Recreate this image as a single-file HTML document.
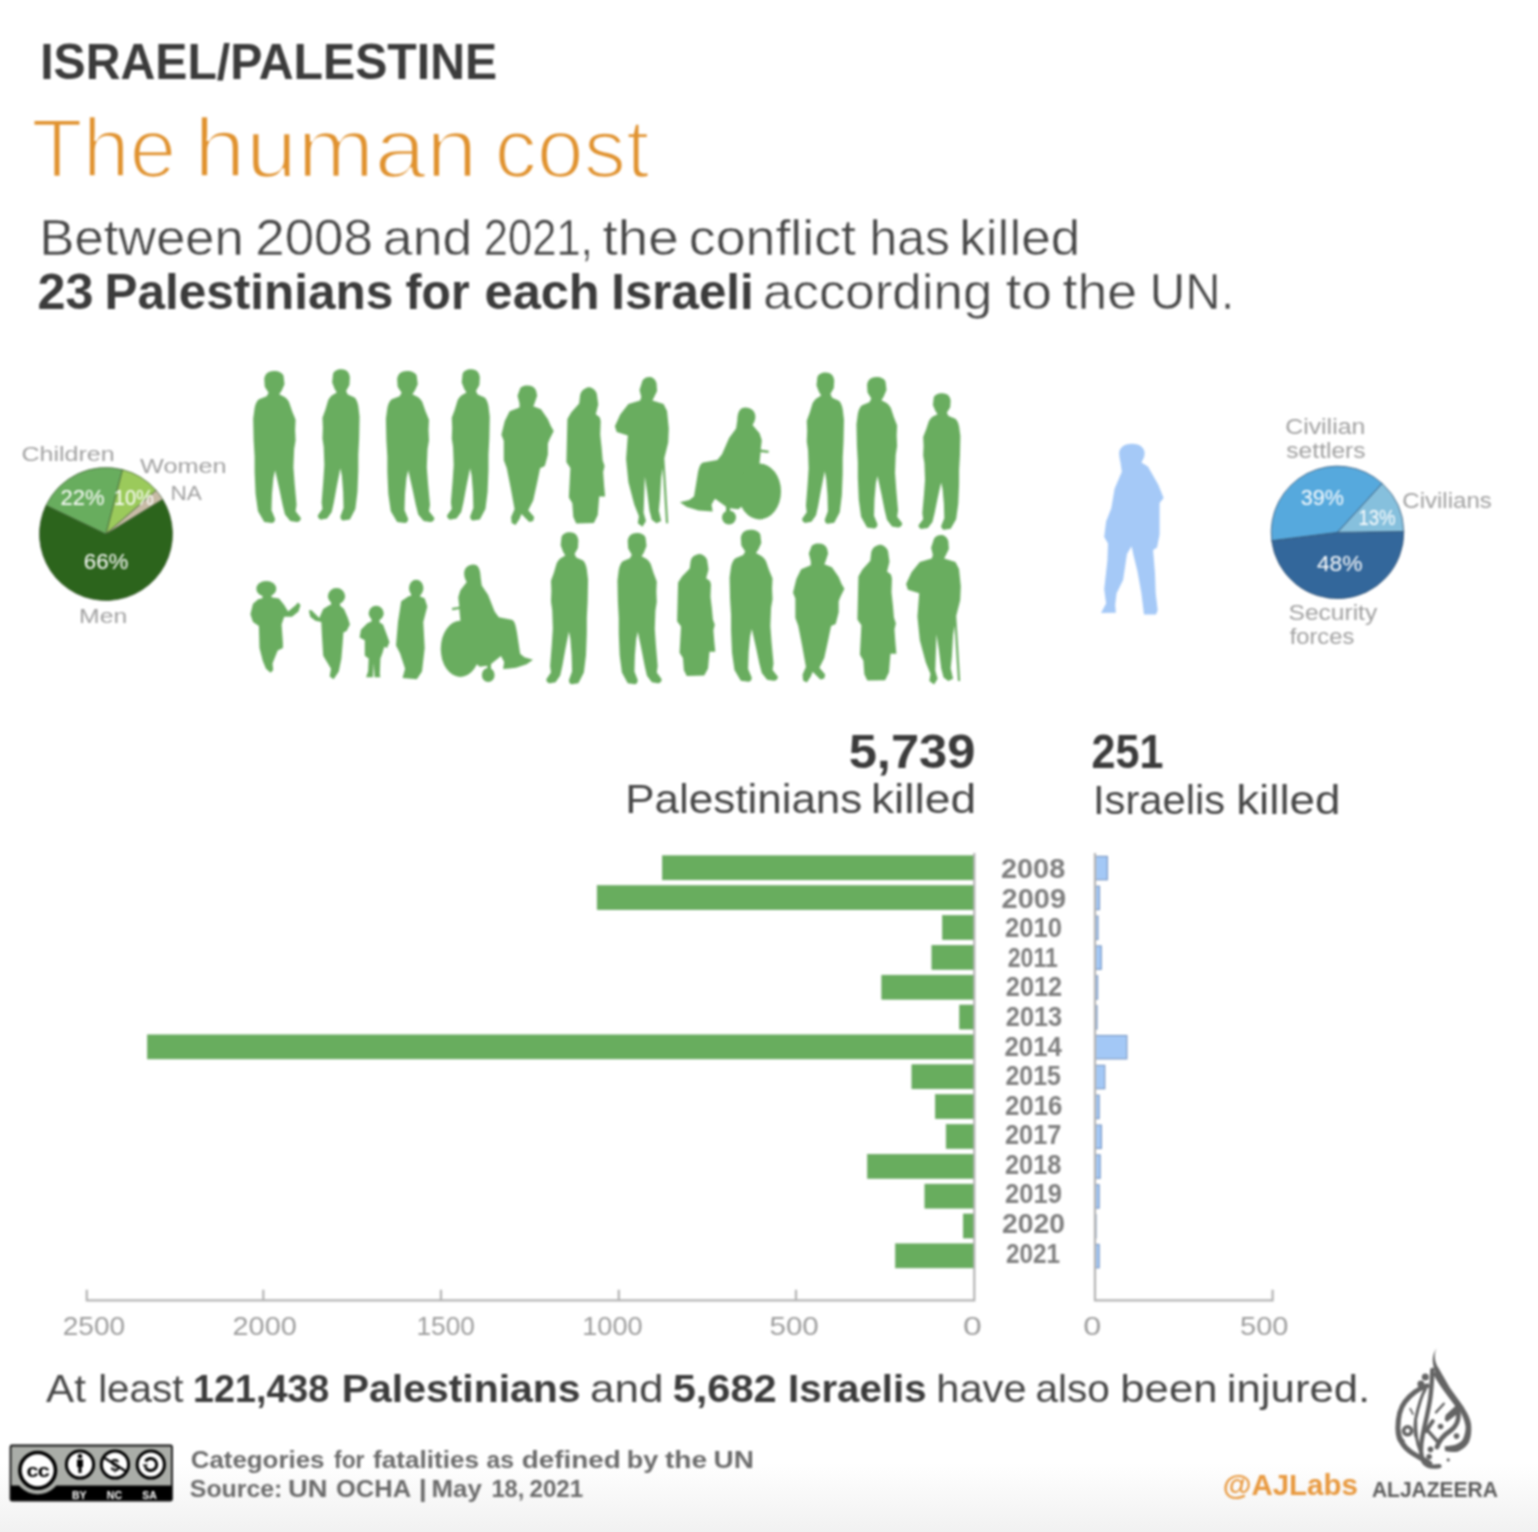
<!DOCTYPE html>
<html><head><meta charset="utf-8"><title>The human cost</title>
<style>
html,body{margin:0;padding:0;background:#fff;}
body{background:linear-gradient(to bottom,#ffffff 0px,#ffffff 1463px,#f1f1f1 1532px);}
body{width:1538px;height:1532px;overflow:hidden;position:relative;}
svg{position:absolute;left:0;top:0;font-family:"Liberation Sans",sans-serif;filter:blur(1px);}
</style></head><body>
<svg width="1538" height="1532" viewBox="0 0 1538 1532">
<path d="M106.00 534.00 L162.70 499.25 A66.50 66.50 0 1 1 46.03 505.27 Z" fill="#2c641c" stroke="#3c5a30" stroke-width="0.70" stroke-linejoin="round"/>
<path d="M106.00 534.00 L46.03 505.27 A66.50 66.50 0 0 1 122.54 469.59 Z" fill="#68ad5e" stroke="#3c5a30" stroke-width="0.70" stroke-linejoin="round"/>
<path d="M106.00 534.00 L122.54 469.59 A66.50 66.50 0 0 1 156.19 490.37 Z" fill="#9bca5b" stroke="#3c5a30" stroke-width="0.70" stroke-linejoin="round"/>
<path d="M106.00 534.00 L156.19 490.37 A66.50 66.50 0 0 1 162.70 499.25 Z" fill="#c8bba6" stroke="#3c5a30" stroke-width="0.70" stroke-linejoin="round"/>
<path d="M1337.50 532.40 L1403.79 531.47 A66.30 66.30 0 0 1 1271.72 540.71 Z" fill="#33679b" stroke="#2d4a6a" stroke-width="0.70" stroke-linejoin="round"/>
<path d="M1337.50 532.40 L1271.72 540.71 A66.30 66.30 0 0 1 1382.21 483.44 Z" fill="#56a9dd" stroke="#2d4a6a" stroke-width="0.70" stroke-linejoin="round"/>
<path d="M1337.50 532.40 L1382.21 483.44 A66.30 66.30 0 0 1 1403.79 531.47 Z" fill="#86c0dd" stroke="#2d4a6a" stroke-width="0.70" stroke-linejoin="round"/>
<rect x="662.40" y="855.80" width="311.90" height="24.00" fill="#68ad5e" stroke="#5e9f55" stroke-width="0.6"/>
<rect x="1095" y="856.40" width="12.40" height="23.40" fill="#a3c8f6" stroke="#7896c2" stroke-width="1.1"/>
<rect x="597.20" y="885.65" width="377.10" height="24.00" fill="#68ad5e" stroke="#5e9f55" stroke-width="0.6"/>
<rect x="1095" y="886.25" width="4.50" height="23.40" fill="#a3c8f6" stroke="#7896c2" stroke-width="1.1"/>
<rect x="942.50" y="915.50" width="31.80" height="24.00" fill="#68ad5e" stroke="#5e9f55" stroke-width="0.6"/>
<rect x="1095" y="916.10" width="3.00" height="23.40" fill="#a3c8f6" stroke="#7896c2" stroke-width="1.1"/>
<rect x="931.90" y="945.35" width="42.40" height="24.00" fill="#68ad5e" stroke="#5e9f55" stroke-width="0.6"/>
<rect x="1095" y="945.95" width="6.30" height="23.40" fill="#a3c8f6" stroke="#7896c2" stroke-width="1.1"/>
<rect x="881.80" y="975.20" width="92.50" height="24.00" fill="#68ad5e" stroke="#5e9f55" stroke-width="0.6"/>
<rect x="1095" y="975.80" width="2.60" height="23.40" fill="#a3c8f6" stroke="#7896c2" stroke-width="1.1"/>
<rect x="959.70" y="1005.05" width="14.60" height="24.00" fill="#68ad5e" stroke="#5e9f55" stroke-width="0.6"/>
<rect x="1095" y="1005.65" width="2.00" height="23.40" fill="#a3c8f6" stroke="#7896c2" stroke-width="1.1"/>
<rect x="147.50" y="1034.90" width="826.80" height="24.00" fill="#68ad5e" stroke="#5e9f55" stroke-width="0.6"/>
<rect x="1095" y="1035.50" width="31.90" height="23.40" fill="#a3c8f6" stroke="#7896c2" stroke-width="1.1"/>
<rect x="911.90" y="1064.75" width="62.40" height="24.00" fill="#68ad5e" stroke="#5e9f55" stroke-width="0.6"/>
<rect x="1095" y="1065.35" width="9.80" height="23.40" fill="#a3c8f6" stroke="#7896c2" stroke-width="1.1"/>
<rect x="935.40" y="1094.60" width="38.90" height="24.00" fill="#68ad5e" stroke="#5e9f55" stroke-width="0.6"/>
<rect x="1095" y="1095.20" width="4.20" height="23.40" fill="#a3c8f6" stroke="#7896c2" stroke-width="1.1"/>
<rect x="946.20" y="1124.45" width="28.10" height="24.00" fill="#68ad5e" stroke="#5e9f55" stroke-width="0.6"/>
<rect x="1095" y="1125.05" width="6.40" height="23.40" fill="#a3c8f6" stroke="#7896c2" stroke-width="1.1"/>
<rect x="867.60" y="1154.30" width="106.70" height="24.00" fill="#68ad5e" stroke="#5e9f55" stroke-width="0.6"/>
<rect x="1095" y="1154.90" width="5.20" height="23.40" fill="#a3c8f6" stroke="#7896c2" stroke-width="1.1"/>
<rect x="924.90" y="1184.15" width="49.40" height="24.00" fill="#68ad5e" stroke="#5e9f55" stroke-width="0.6"/>
<rect x="1095" y="1184.75" width="4.20" height="23.40" fill="#a3c8f6" stroke="#7896c2" stroke-width="1.1"/>
<rect x="963.30" y="1214.00" width="11.00" height="24.00" fill="#68ad5e" stroke="#5e9f55" stroke-width="0.6"/>
<rect x="1095" y="1214.60" width="1.00" height="23.40" fill="#a3c8f6" stroke="#7896c2" stroke-width="1.1"/>
<rect x="895.60" y="1243.85" width="78.70" height="24.00" fill="#68ad5e" stroke="#5e9f55" stroke-width="0.6"/>
<rect x="1095" y="1244.45" width="4.20" height="23.40" fill="#a3c8f6" stroke="#7896c2" stroke-width="1.1"/>
<path d="M974.3 853 V1300.4 H86.8 V1289.7 M263.3 1300.4 V1289.7 M441 1300.4 V1289.7 M618.8 1300.4 V1289.7 M796 1300.4 V1289.7" fill="none" stroke="#b3b3b3" stroke-width="2.2"/>
<path d="M1095 853 V1300.4 H1272.6 V1289.7" fill="none" stroke="#b3b3b3" stroke-width="2.2"/>
<g fill="#69ad5f">
<path d="M44 0 C54 0 63 4 64 10 L66 26 L60 39 L55 46 L67 52 C72 56 75 60 76 63 L82 80 L89 96 L88 116 L89 137 L86 154 L84.5 190 L87 222 L91 264 L89 277 L100 290 C100 296 94 299 91 298 L78 296 L67 283 L62 264 L55 232 L46.5 196 L43 211 L40 243 L39 275 L46.5 292 C46 298 42 300 40 300 L24 298 L11 277 L6 243 L4 200 L4 169 L2 137 L1 94 L4 73 C6 64 9 59 13 56 L29 50 L33 43 L25 31 L24 16 C25 8 30 0 44 0 Z" transform="matrix(0.48200 0 0 0.50667 252.70 371.00)"/>
<path d="M44 0 C54 0 63 4 64 10 L66 26 L60 39 L55 46 L67 52 C72 56 75 60 76 63 L82 80 L89 96 L88 116 L89 137 L86 154 L84.5 190 L87 222 L91 264 L89 277 L100 290 C100 296 94 299 91 298 L78 296 L67 283 L62 264 L55 232 L46.5 196 L43 211 L40 243 L39 275 L46.5 292 C46 298 42 300 40 300 L24 298 L11 277 L6 243 L4 200 L4 169 L2 137 L1 94 L4 73 C6 64 9 59 13 56 L29 50 L33 43 L25 31 L24 16 C25 8 30 0 44 0 Z" transform="matrix(-0.42200 0 0 0.50433 360.00 369.30)"/>
<path d="M44 0 C54 0 63 4 64 10 L66 26 L60 39 L55 46 L67 52 C72 56 75 60 76 63 L82 80 L89 96 L88 116 L89 137 L86 154 L84.5 190 L87 222 L91 264 L89 277 L100 290 C100 296 94 299 91 298 L78 296 L67 283 L62 264 L55 232 L46.5 196 L43 211 L40 243 L39 275 L46.5 292 C46 298 42 300 40 300 L24 298 L11 277 L6 243 L4 200 L4 169 L2 137 L1 94 L4 73 C6 64 9 59 13 56 L29 50 L33 43 L25 31 L24 16 C25 8 30 0 44 0 Z" transform="matrix(0.49000 0 0 0.50667 385.40 371.00)"/>
<path d="M44 0 C54 0 63 4 64 10 L66 26 L60 39 L55 46 L67 52 C72 56 75 60 76 63 L82 80 L89 96 L88 116 L89 137 L86 154 L84.5 190 L87 222 L91 264 L89 277 L100 290 C100 296 94 299 91 298 L78 296 L67 283 L62 264 L55 232 L46.5 196 L43 211 L40 243 L39 275 L46.5 292 C46 298 42 300 40 300 L24 298 L11 277 L6 243 L4 200 L4 169 L2 137 L1 94 L4 73 C6 64 9 59 13 56 L29 50 L33 43 L25 31 L24 16 C25 8 30 0 44 0 Z" transform="matrix(-0.43200 0 0 0.50433 490.20 369.30)"/>
<path d="M49.5 0 C58 0 64 4 66.4 11.5 L68.3 22 L62.6 41 L60.8 45 L75.7 51.5 L88.9 72.6 L94.5 87.3 L100 98 L92.6 114.7 L88.9 125 L88.9 148.4 L85 165 L83 173.6 L74 178 L68.3 209.4 L60.8 247.3 L51.4 268.4 L62.6 283 L60.8 291.5 L53.3 293.6 L38.3 276.8 L34.6 287.3 L27 300 L19.6 295.7 L18.6 283 L25.2 266.3 L17.7 220 L10.2 177.8 L4.6 161 L4.6 119 L0 106.3 L6.5 76.8 L15.8 55.7 L34.6 47.3 L34.6 39 L30.8 22 L36.4 5.2 C40 1 45 0 49.5 0 Z" transform="matrix(0.52300 0 0 0.46500 501.40 385.40)"/>
<path d="M60.8 0 C70 2 76 8 78.5 14 L82.3 37.8 L76 59.4 L86 66 L88.6 74.5 L87.4 104.7 L91.2 135 L93.7 160.8 L98.7 173.7 L95 186.7 L97.5 217 L100 240.6 L84.8 240.6 L81 281.6 L71 299 L25.4 300 L17.8 286 L15.3 255.7 L6.4 242.7 L10.2 178 L0 165 L2.6 70 L12.8 55 L33 35.7 L35.5 16.3 C38 9 43 4 48 3 C52 1 56 0 60.8 0 Z" transform="matrix(0.38700 0 0 0.45367 566.40 387.30)"/>
<path d="M63.4 0 C70 0 74 5 76.3 11.8 L77.4 28.2 L72 40 L68.8 47 L89.2 54 L95.7 68 L98.9 103 L97.8 131 L93.5 150 L90.3 164 L84.9 201.6 L82.8 243.8 L80.6 267.2 L84.9 288.4 L76.3 293 L67.7 286 L63.4 267.2 L59.2 230 L54.9 199.3 L52.7 272 L57 288.4 L50.6 300 L42 293 L44.1 279 L35.5 255.5 L24.8 211 L20.5 164 L23.7 117 L3.3 110 L0 98.5 L9.8 75 L24.8 54 L46.3 47 L48.4 40 L45.2 25.8 L50.6 7 C54 2 58 0 63.4 0 Z M86 150 L90 150 L97.8 293 L93.8 293 Z" transform="matrix(0.54500 0 0 0.49933 614.90 377.00)"/>
<path d="M745.4 407.5 C751 407.5 755.4 411 755.4 416.8 C755.4 420 754 423 752.5 425 L759.5 433.2 L761.8 440.2 L760.7 449.6 L768.9 450.8 L768.3 453.1 L760.7 451.9 L759.5 463.6 L759.5 491.5 L738.4 509.3 L727.9 508.1 L715 498.7 L711.5 504.6 L712.7 511.6 L698.6 510.4 L686.9 506.9 L679.9 502.3 L689.3 499.9 L694 496.4 L697.5 475.3 C699 466 701 463 703.3 462.5 L717.4 460.1 L722 454.3 L729.1 437.9 L736.1 428.5 L737.3 420.3 C737.5 412 740 407.5 745.4 407.5 Z"/><ellipse cx="759.5" cy="491.5" rx="21.5" ry="28"/><circle cx="729" cy="517.5" r="7"/><rect x="726" y="505" width="4" height="8"/>
<path d="M44 0 C54 0 63 4 64 10 L66 26 L60 39 L55 46 L67 52 C72 56 75 60 76 63 L82 80 L89 96 L88 116 L89 137 L86 154 L84.5 190 L87 222 L91 264 L89 277 L100 290 C100 296 94 299 91 298 L78 296 L67 283 L62 264 L55 232 L46.5 196 L43 211 L40 243 L39 275 L46.5 292 C46 298 42 300 40 300 L24 298 L11 277 L6 243 L4 200 L4 169 L2 137 L1 94 L4 73 C6 64 9 59 13 56 L29 50 L33 43 L25 31 L24 16 C25 8 30 0 44 0 Z" transform="matrix(-0.42300 0 0 0.50467 844.40 372.40)"/>
<path d="M44 0 C54 0 63 4 64 10 L66 26 L60 39 L55 46 L67 52 C72 56 75 60 76 63 L82 80 L89 96 L88 116 L89 137 L86 154 L84.5 190 L87 222 L91 264 L89 277 L100 290 C100 296 94 299 91 298 L78 296 L67 283 L62 264 L55 232 L46.5 196 L43 211 L40 243 L39 275 L46.5 292 C46 298 42 300 40 300 L24 298 L11 277 L6 243 L4 200 L4 169 L2 137 L1 94 L4 73 C6 64 9 59 13 56 L29 50 L33 43 L25 31 L24 16 C25 8 30 0 44 0 Z" transform="matrix(0.46200 0 0 0.50500 856.00 376.90)"/>
<path d="M44 0 C54 0 63 4 64 10 L66 26 L60 39 L55 46 L67 52 C72 56 75 60 76 63 L82 80 L89 96 L88 116 L89 137 L86 154 L84.5 190 L87 222 L91 264 L89 277 L100 290 C100 296 94 299 91 298 L78 296 L67 283 L62 264 L55 232 L46.5 196 L43 211 L40 243 L39 275 L46.5 292 C46 298 42 300 40 300 L24 298 L11 277 L6 243 L4 200 L4 169 L2 137 L1 94 L4 73 C6 64 9 59 13 56 L29 50 L33 43 L25 31 L24 16 C25 8 30 0 44 0 Z" transform="matrix(-0.42300 0 0 0.45500 960.80 393.20)"/>
<ellipse cx="266.3" cy="588.8" rx="10" ry="7.8"/><rect x="262.5" y="594" width="9" height="6"/><path d="M271.2 597.3 L279 598.6 L284.2 605.1 L288.1 611.6 L295.9 605.1 L297.9 602.5 L300.5 605.1 L298.5 611.6 L292 616.8 L284.2 616.8 L281.6 624.6 L282.9 642.8 L282.9 648 L277.7 650.6 L272.5 663.6 L273.2 670.1 L270.6 672.7 L266 668.8 L262.8 661 L259.5 648 L258.9 625.9 L253 622 L250.4 614.2 L253 603.8 L258.2 599.3 L263.4 598 Z"/>
<ellipse cx="336.5" cy="596.3" rx="8.6" ry="8.2"/><rect x="331" y="601" width="9" height="6"/><path d="M338.8 604.5 L344 609 L347.9 618.1 L349.9 624.6 L346.6 631.1 L343.4 632.4 L342.7 642.8 L341.4 658.4 L338.8 671.4 L333.6 679.2 L329.7 676.6 L331 668.8 L323.2 655.8 L321.9 635 L321.3 622 L315.4 620.7 L310.2 616.8 L308.9 610.3 L311.5 610.3 L319.3 618.1 L323.2 609 L329.7 605.1 Z"/>
<circle cx="376.2" cy="613.3" r="7.5"/><rect x="371.5" y="618" width="8" height="5"/><path d="M377.8 621.4 L383 624.6 L386.9 635 L389.5 642.2 L387 648 L384.3 646.7 L382.4 653.2 L380.4 658.4 L379.8 674 L380.4 677.3 L374.5 677.3 L373.8 663 L372.8 677.3 L366.1 677.3 L368.1 671.4 L368.7 658.4 L364.8 655.8 L364.8 640.2 L359.6 637.6 L360.9 629.8 L367.4 623.3 L371.3 621.4 Z"/>
<ellipse cx="416.2" cy="588.2" rx="7.2" ry="8.4"/><rect x="411" y="594" width="9" height="5"/><path d="M419.4 596 L424.7 598.6 L427.3 606.4 L423.3 622 L424.7 648 L422 671.4 L416.8 679.2 L402.5 677.9 L405.1 668.8 L400 653.2 L396 645.4 L398 622 L401.2 601.2 L409 596 Z"/>
<g transform="matrix(-0.9126 0 0 1.005 1153.5 154.9)"><path d="M745.4 407.5 C751 407.5 755.4 411 755.4 416.8 C755.4 420 754 423 752.5 425 L759.5 433.2 L761.8 440.2 L760.7 449.6 L768.9 450.8 L768.3 453.1 L760.7 451.9 L759.5 463.6 L759.5 491.5 L738.4 509.3 L727.9 508.1 L715 498.7 L711.5 504.6 L712.7 511.6 L698.6 510.4 L686.9 506.9 L679.9 502.3 L689.3 499.9 L694 496.4 L697.5 475.3 C699 466 701 463 703.3 462.5 L717.4 460.1 L722 454.3 L729.1 437.9 L736.1 428.5 L737.3 420.3 C737.5 412 740 407.5 745.4 407.5 Z"/><ellipse cx="759.5" cy="491.5" rx="21.5" ry="28"/><circle cx="729" cy="517.5" r="7"/><rect x="726" y="505" width="4" height="8"/></g>
<path d="M44 0 C54 0 63 4 64 10 L66 26 L60 39 L55 46 L67 52 C72 56 75 60 76 63 L82 80 L89 96 L88 116 L89 137 L86 154 L84.5 190 L87 222 L91 264 L89 277 L100 290 C100 296 94 299 91 298 L78 296 L67 283 L62 264 L55 232 L46.5 196 L43 211 L40 243 L39 275 L46.5 292 C46 298 42 300 40 300 L24 298 L11 277 L6 243 L4 200 L4 169 L2 137 L1 94 L4 73 C6 64 9 59 13 56 L29 50 L33 43 L25 31 L24 16 C25 8 30 0 44 0 Z" transform="matrix(-0.42200 0 0 0.50667 588.50 532.20)"/>
<path d="M44 0 C54 0 63 4 64 10 L66 26 L60 39 L55 46 L67 52 C72 56 75 60 76 63 L82 80 L89 96 L88 116 L89 137 L86 154 L84.5 190 L87 222 L91 264 L89 277 L100 290 C100 296 94 299 91 298 L78 296 L67 283 L62 264 L55 232 L46.5 196 L43 211 L40 243 L39 275 L46.5 292 C46 298 42 300 40 300 L24 298 L11 277 L6 243 L4 200 L4 169 L2 137 L1 94 L4 73 C6 64 9 59 13 56 L29 50 L33 43 L25 31 L24 16 C25 8 30 0 44 0 Z" transform="matrix(0.44700 0 0 0.50400 617.00 533.00)"/>
<path d="M60.8 0 C70 2 76 8 78.5 14 L82.3 37.8 L76 59.4 L86 66 L88.6 74.5 L87.4 104.7 L91.2 135 L93.7 160.8 L98.7 173.7 L95 186.7 L97.5 217 L100 240.6 L84.8 240.6 L81 281.6 L71 299 L25.4 300 L17.8 286 L15.3 255.7 L6.4 242.7 L10.2 178 L0 165 L2.6 70 L12.8 55 L33 35.7 L35.5 16.3 C38 9 43 4 48 3 C52 1 56 0 60.8 0 Z" transform="matrix(0.38200 0 0 0.40633 677.10 554.10)"/>
<path d="M44 0 C54 0 63 4 64 10 L66 26 L60 39 L55 46 L67 52 C72 56 75 60 76 63 L82 80 L89 96 L88 116 L89 137 L86 154 L84.5 190 L87 222 L91 264 L89 277 L100 290 C100 296 94 299 91 298 L78 296 L67 283 L62 264 L55 232 L46.5 196 L43 211 L40 243 L39 275 L46.5 292 C46 298 42 300 40 300 L24 298 L11 277 L6 243 L4 200 L4 169 L2 137 L1 94 L4 73 C6 64 9 59 13 56 L29 50 L33 43 L25 31 L24 16 C25 8 30 0 44 0 Z" transform="matrix(0.48800 0 0 0.50633 729.10 529.80)"/>
<path d="M49.5 0 C58 0 64 4 66.4 11.5 L68.3 22 L62.6 41 L60.8 45 L75.7 51.5 L88.9 72.6 L94.5 87.3 L100 98 L92.6 114.7 L88.9 125 L88.9 148.4 L85 165 L83 173.6 L74 178 L68.3 209.4 L60.8 247.3 L51.4 268.4 L62.6 283 L60.8 291.5 L53.3 293.6 L38.3 276.8 L34.6 287.3 L27 300 L19.6 295.7 L18.6 283 L25.2 266.3 L17.7 220 L10.2 177.8 L4.6 161 L4.6 119 L0 106.3 L6.5 76.8 L15.8 55.7 L34.6 47.3 L34.6 39 L30.8 22 L36.4 5.2 C40 1 45 0 49.5 0 Z" transform="matrix(0.51400 0 0 0.46367 793.00 543.40)"/>
<path d="M60.8 0 C70 2 76 8 78.5 14 L82.3 37.8 L76 59.4 L86 66 L88.6 74.5 L87.4 104.7 L91.2 135 L93.7 160.8 L98.7 173.7 L95 186.7 L97.5 217 L100 240.6 L84.8 240.6 L81 281.6 L71 299 L25.4 300 L17.8 286 L15.3 255.7 L6.4 242.7 L10.2 178 L0 165 L2.6 70 L12.8 55 L33 35.7 L35.5 16.3 C38 9 43 4 48 3 C52 1 56 0 60.8 0 Z" transform="matrix(0.39000 0 0 0.45300 857.40 544.70)"/>
<path d="M63.4 0 C70 0 74 5 76.3 11.8 L77.4 28.2 L72 40 L68.8 47 L89.2 54 L95.7 68 L98.9 103 L97.8 131 L93.5 150 L90.3 164 L84.9 201.6 L82.8 243.8 L80.6 267.2 L84.9 288.4 L76.3 293 L67.7 286 L63.4 267.2 L59.2 230 L54.9 199.3 L52.7 272 L57 288.4 L50.6 300 L42 293 L44.1 279 L35.5 255.5 L24.8 211 L20.5 164 L23.7 117 L3.3 110 L0 98.5 L9.8 75 L24.8 54 L46.3 47 L48.4 40 L45.2 25.8 L50.6 7 C54 2 58 0 63.4 0 Z M86 150 L90 150 L97.8 293 L93.8 293 Z" transform="matrix(0.55300 0 0 0.49833 906.10 535.00)"/>
</g>
<path fill="#a5c9f7" d="M1132 443.7 C1140 443.7 1144.6 448 1144.6 453 C1144.6 458 1142 461 1141.4 462.6 L1147.9 466.6 L1158.3 484.8 L1163.6 497.9 L1159.6 503.1 L1159.6 534.4 L1157 547.5 L1153.1 550 L1155 573.6 L1155.7 593.2 L1157.7 610.2 L1156 614.5 L1144 614.5 L1141.4 593.2 L1137.4 571 L1133.5 555.3 L1131.6 546.2 L1127 554 L1123.1 580.1 L1116.6 593.2 L1115.2 605 L1115.9 612.8 L1101 613 L1106.1 603.6 L1104.2 589.3 L1107.4 560.5 L1108 543.6 L1104.2 537 L1106.1 521.4 L1111.3 508.3 L1114.6 488.7 L1121.8 471.8 L1120.5 462.6 C1119.5 458 1119.2 455 1119.2 453 C1119.2 448 1124 443.7 1132 443.7 Z"/>
<rect x="10.5" y="1445.5" width="161.5" height="55" rx="1.5" fill="#aaada8"/>
<rect x="10.5" y="1485.5" width="161.5" height="15" fill="#000"/>
<circle cx="37.7" cy="1470.3" r="24" fill="#aaada8"/>
<circle cx="37.7" cy="1470.3" r="17.8" fill="#fff" stroke="#000" stroke-width="3.6"/>
<text x="0" y="0" transform="translate(37.7 1476.8) scale(1.15 1)" text-anchor="middle" font-size="19" font-weight="700" fill="#000" letter-spacing="-0.8">cc</text>
<circle cx="80.0" cy="1464.5" r="13.6" fill="#fff" stroke="#000" stroke-width="3"/>
<circle cx="115.0" cy="1464.5" r="13.6" fill="#fff" stroke="#000" stroke-width="3"/>
<circle cx="150.8" cy="1464.5" r="13.6" fill="#fff" stroke="#000" stroke-width="3"/>
<circle cx="80" cy="1456.3" r="2.3" fill="#000"/><path d="M77 1459.5 H83 V1467 H81.6 V1473 H78.4 V1467 H77 Z" fill="#000"/>
<text x="115" y="1470.5" text-anchor="middle" font-size="16" font-weight="700" fill="#000">$</text><path d="M104.5 1458 L125.5 1471" stroke="#000" stroke-width="2.4"/>
<path d="M145.5 1461.5 A6 6 0 1 1 145.5 1467.5" fill="none" stroke="#000" stroke-width="3"/><path d="M142.5 1464.5 L148 1464.5 L145.2 1468 Z" fill="#000"/>
<rect x="10.5" y="1445.5" width="161.5" height="55" rx="1.5" fill="none" stroke="#111" stroke-width="1.8"/>
<text x="79.3" y="1498.6" text-anchor="middle" font-size="10.5" font-weight="700" fill="#fff">BY</text>
<text x="114.4" y="1498.6" text-anchor="middle" font-size="10.5" font-weight="700" fill="#fff">NC</text>
<text x="149.5" y="1498.6" text-anchor="middle" font-size="10.5" font-weight="700" fill="#fff">SA</text>
<path fill="#646464" d="M1436.7 1347.9 C1433.5 1354 1434.5 1362 1438.5 1368 L1450 1388 L1463 1406 C1468 1414 1471 1420 1471.2 1426 C1471.5 1432 1471 1437 1469 1442 C1467 1446 1462 1450 1457.5 1451.7 C1453 1452.5 1449 1452 1445 1451 L1444.7 1446.2 C1449 1446 1454 1445.5 1457 1444 C1461 1442 1463 1440 1463.8 1437 C1465.5 1432 1465.8 1428 1465.5 1426 C1464.5 1420 1462 1415 1460 1411 L1452 1399 L1444 1390 C1440 1384 1437 1379 1435 1372 C1432.5 1364 1431 1356 1436.7 1347.9 Z"/>
<g fill="none" stroke="#646464" stroke-linecap="round" stroke-linejoin="round">
<path d="M1435 1374 C1441 1386 1450 1396 1457 1406" stroke-width="3"/>
<path d="M1457.5 1409 C1460 1418 1457 1426 1450 1431 C1444 1435 1439 1441 1437 1447" stroke-width="4.8"/>
<path d="M1432.3 1370 C1432 1380 1431.5 1390 1430 1400 C1428 1412 1425 1424 1422.5 1436 C1420.5 1446 1420 1455 1423.5 1461.6 C1426 1466 1431 1467.5 1439.4 1466.1" stroke-width="4.4"/>
<path d="M1427 1385.8 C1420 1388 1411 1394 1405 1401.7 C1400 1408 1398 1420 1397.9 1428.2 C1398 1436 1400 1442 1402.3 1441.4 M1397.9 1428.2 C1398.5 1440 1404 1448 1412 1452.8 C1418 1456.5 1424 1460 1429.7 1463.4" stroke-width="5"/>
<path d="M1425.3 1389.4 C1421 1396 1418 1408 1415.6 1419.3 C1414.5 1428 1415 1437 1416.4 1437 M1415.6 1419.3 C1415.5 1432 1417 1444 1420 1450.2 C1421 1454 1422 1457 1423.5 1459" stroke-width="3"/>
<circle cx="1407.6" cy="1430.8" r="4" stroke-width="3.6"/>
<path d="M1432.8 1421.1 L1425.9 1431.1" stroke-width="4"/>
<path d="M1428.2 1431.1 L1438.3 1442.5" stroke-width="3.4"/>
<path d="M1443.8 1403.7 L1436 1412.4" stroke-width="2.4"/>
<path d="M1410.3 1408.8 L1412.9 1414" stroke-width="1.8"/>
</g>
<path fill="#646464" d="M1457 1404.6 L1445.6 1415.1 L1444.7 1419.7 L1447 1422 L1458.5 1413 Z"/>
<circle cx="1425.3" cy="1377.0" r="3.5" fill="#646464"/>
<circle cx="1420.9" cy="1384.1" r="3.5" fill="#646464"/>
<circle cx="1440.6" cy="1426.5" r="2.8" fill="#646464"/>
<circle cx="1456.5" cy="1436.1" r="2.8" fill="#646464"/>
<circle cx="1430.5" cy="1449.4" r="2.8" fill="#646464"/>
<circle cx="1429.1" cy="1456.7" r="2.8" fill="#646464"/>
<circle cx="1448.2" cy="1459.9" r="1.6" fill="#646464"/>
<text transform="translate(40.14 78.60) scale(0.9531 1)" font-size="50.58" font-weight="700" fill="#3b3b3b">ISRAEL/PALESTINE</text>
<text transform="translate(31.20 176.50) scale(1.0002 1)" font-size="84.30" font-weight="400" fill="#e0922f" stroke="#ffffff" stroke-width="2.60" paint-order="normal">The</text>
<text transform="translate(194.10 176.50) scale(1.0998 1)" font-size="84.30" font-weight="400" fill="#e0922f" stroke="#ffffff" stroke-width="2.60" paint-order="normal">human</text>
<text transform="translate(494.49 176.50) scale(1.0021 1)" font-size="84.30" font-weight="400" fill="#e0922f" stroke="#ffffff" stroke-width="2.60" paint-order="normal">cost</text>
<text transform="translate(39.58 254.60) scale(1.0552 1)" font-size="49.71" font-weight="400" fill="#474747" stroke="#ffffff" stroke-width="0.50" paint-order="normal">Between</text>
<text transform="translate(255.27 254.60) scale(1.0633 1)" font-size="49.71" font-weight="400" fill="#474747" stroke="#ffffff" stroke-width="0.50" paint-order="normal">2008</text>
<text transform="translate(382.84 254.60) scale(1.0781 1)" font-size="49.71" font-weight="400" fill="#474747" stroke="#ffffff" stroke-width="0.50" paint-order="normal">and</text>
<text transform="translate(483.85 254.60) scale(0.8771 1)" font-size="49.71" font-weight="400" fill="#474747" stroke="#ffffff" stroke-width="0.50" paint-order="normal">2021,</text>
<text transform="translate(602.60 254.60) scale(1.1000 1)" font-size="49.71" font-weight="400" fill="#474747" stroke="#ffffff" stroke-width="0.50" paint-order="normal">the</text>
<text transform="translate(688.84 254.60) scale(1.0806 1)" font-size="49.71" font-weight="400" fill="#474747" stroke="#ffffff" stroke-width="0.50" paint-order="normal">conflict</text>
<text transform="translate(869.39 254.60) scale(1.0041 1)" font-size="49.71" font-weight="400" fill="#474747" stroke="#ffffff" stroke-width="0.50" paint-order="normal">has</text>
<text transform="translate(959.30 254.60) scale(1.0676 1)" font-size="49.71" font-weight="400" fill="#474747" stroke="#ffffff" stroke-width="0.50" paint-order="normal">killed</text>
<text transform="translate(37.58 308.60) scale(1.0176 1)" font-size="49.42" font-weight="700" fill="#3b3b3b">23</text>
<text transform="translate(104.50 308.60) scale(1.0016 1)" font-size="49.42" font-weight="700" fill="#3b3b3b">Palestinians</text>
<text transform="translate(405.60 308.60) scale(0.9721 1)" font-size="49.42" font-weight="700" fill="#3b3b3b">for</text>
<text transform="translate(484.58 308.60) scale(1.0216 1)" font-size="49.42" font-weight="700" fill="#3b3b3b">each</text>
<text transform="translate(611.31 308.60) scale(0.9963 1)" font-size="49.42" font-weight="700" fill="#3b3b3b">Israeli</text>
<text transform="translate(763.06 308.60) scale(1.0703 1)" font-size="49.42" font-weight="400" fill="#474747" stroke="#ffffff" stroke-width="0.50" paint-order="normal">according</text>
<text transform="translate(1005.80 308.60) scale(1.1202 1)" font-size="49.42" font-weight="400" fill="#474747" stroke="#ffffff" stroke-width="0.50" paint-order="normal">to</text>
<text transform="translate(1062.60 308.60) scale(1.0848 1)" font-size="49.42" font-weight="400" fill="#474747" stroke="#ffffff" stroke-width="0.50" paint-order="normal">the</text>
<text transform="translate(1149.82 308.60) scale(0.9929 1)" font-size="49.42" font-weight="400" fill="#474747" stroke="#ffffff" stroke-width="0.50" paint-order="normal">UN.</text>
<text transform="translate(21.49 461.40) scale(1.2119 1)" font-size="20.64" font-weight="400" fill="#a0a0a0">Children</text>
<text transform="translate(140.00 472.60) scale(1.2248 1)" font-size="20.64" font-weight="400" fill="#a0a0a0">Women</text>
<text transform="translate(170.41 499.50) scale(1.0934 1)" font-size="20.64" font-weight="400" fill="#a0a0a0">NA</text>
<text transform="translate(79.10 622.90) scale(1.1979 1)" font-size="20.64" font-weight="400" fill="#a0a0a0">Men</text>
<text transform="translate(60.59 504.80) scale(1.0084 1)" font-size="21.80" font-weight="400" fill="#ffffff">22%</text>
<text transform="translate(113.78 504.80) scale(0.9208 1)" font-size="21.80" font-weight="400" fill="#ffffff">10%</text>
<text transform="translate(83.78 569.00) scale(1.0226 1)" font-size="21.80" font-weight="400" fill="#ffffff">66%</text>
<text transform="translate(1285.17 433.90) scale(1.1266 1)" font-size="22.09" font-weight="400" fill="#a0a0a0">Civilian</text>
<text transform="translate(1286.30 457.70) scale(1.1150 1)" font-size="22.09" font-weight="400" fill="#a0a0a0">settlers</text>
<text transform="translate(1402.31 507.80) scale(1.0880 1)" font-size="22.09" font-weight="400" fill="#a0a0a0">Civilians</text>
<text transform="translate(1288.59 619.80) scale(1.1104 1)" font-size="22.09" font-weight="400" fill="#a0a0a0">Security</text>
<text transform="translate(1289.70 644.40) scale(1.0735 1)" font-size="22.09" font-weight="400" fill="#a0a0a0">forces</text>
<text transform="translate(1300.70 505.20) scale(1.0164 1)" font-size="21.22" font-weight="400" fill="#ffffff">39%</text>
<text transform="translate(1358.42 524.70) scale(0.8774 1)" font-size="21.22" font-weight="400" fill="#ffffff">13%</text>
<text transform="translate(1316.90 571.40) scale(1.0751 1)" font-size="21.22" font-weight="400" fill="#ffffff">48%</text>
<text transform="translate(848.64 768.20) scale(1.0568 1)" font-size="47.97" font-weight="700" fill="#3b3b3b">5,739</text>
<text transform="translate(625.26 813.40) scale(1.0802 1)" font-size="40.70" font-weight="400" fill="#474747">Palestinians</text>
<text transform="translate(870.93 813.40) scale(1.1352 1)" font-size="40.70" font-weight="400" fill="#474747">killed</text>
<text transform="translate(1091.50 768.20) scale(0.8987 1)" font-size="47.97" font-weight="700" fill="#3b3b3b">251</text>
<text transform="translate(1092.92 813.80) scale(1.0262 1)" font-size="40.70" font-weight="400" fill="#474747">Israelis</text>
<text transform="translate(1236.15 813.80) scale(1.1261 1)" font-size="40.70" font-weight="400" fill="#474747">killed</text>
<text transform="translate(1001.00 878.10) scale(1.0745 1)" font-size="26.89" font-weight="700" fill="#7f7f7f">2008</text>
<text transform="translate(1001.60 907.68) scale(1.0775 1)" font-size="26.89" font-weight="700" fill="#7f7f7f">2009</text>
<text transform="translate(1005.00 937.26) scale(0.9551 1)" font-size="26.89" font-weight="700" fill="#7f7f7f">2010</text>
<text transform="translate(1007.80 966.84) scale(0.8568 1)" font-size="26.89" font-weight="700" fill="#7f7f7f">2011</text>
<text transform="translate(1005.80 996.42) scale(0.9415 1)" font-size="26.89" font-weight="700" fill="#7f7f7f">2012</text>
<text transform="translate(1005.80 1026.00) scale(0.9415 1)" font-size="26.89" font-weight="700" fill="#7f7f7f">2013</text>
<text transform="translate(1004.40 1055.58) scale(0.9626 1)" font-size="26.89" font-weight="700" fill="#7f7f7f">2014</text>
<text transform="translate(1005.50 1085.16) scale(0.9275 1)" font-size="26.89" font-weight="700" fill="#7f7f7f">2015</text>
<text transform="translate(1005.00 1114.74) scale(0.9602 1)" font-size="26.89" font-weight="700" fill="#7f7f7f">2016</text>
<text transform="translate(1005.00 1144.32) scale(0.9432 1)" font-size="26.89" font-weight="700" fill="#7f7f7f">2017</text>
<text transform="translate(1005.00 1173.90) scale(0.9442 1)" font-size="26.89" font-weight="700" fill="#7f7f7f">2018</text>
<text transform="translate(1005.00 1203.48) scale(0.9517 1)" font-size="26.89" font-weight="700" fill="#7f7f7f">2019</text>
<text transform="translate(1002.00 1233.06) scale(1.0537 1)" font-size="26.89" font-weight="700" fill="#7f7f7f">2020</text>
<text transform="translate(1006.00 1262.64) scale(0.9041 1)" font-size="26.89" font-weight="700" fill="#7f7f7f">2021</text>
<text transform="translate(62.74 1335.00) scale(1.0594 1)" font-size="26.45" font-weight="400" fill="#9c9c9c">2500</text>
<text transform="translate(232.61 1335.00) scale(1.0891 1)" font-size="26.45" font-weight="400" fill="#9c9c9c">2000</text>
<text transform="translate(416.52 1335.00) scale(0.9909 1)" font-size="26.45" font-weight="400" fill="#9c9c9c">1500</text>
<text transform="translate(582.25 1335.00) scale(1.0266 1)" font-size="26.45" font-weight="400" fill="#9c9c9c">1000</text>
<text transform="translate(769.48 1335.00) scale(1.1178 1)" font-size="26.45" font-weight="400" fill="#9c9c9c">500</text>
<text transform="translate(963.02 1335.00) scale(1.2769 1)" font-size="26.45" font-weight="400" fill="#9c9c9c">0</text>
<text transform="translate(1083.18 1335.00) scale(1.2231 1)" font-size="26.45" font-weight="400" fill="#9c9c9c">0</text>
<text transform="translate(1240.11 1335.00) scale(1.0942 1)" font-size="26.45" font-weight="400" fill="#9c9c9c">500</text>
<text transform="translate(46.10 1402.00) scale(1.0654 1)" font-size="39.54" font-weight="400" fill="#474747">At</text>
<text transform="translate(98.16 1402.00) scale(1.0210 1)" font-size="39.54" font-weight="400" fill="#474747">least</text>
<text transform="translate(193.10 1402.00) scale(0.9524 1)" font-size="39.54" font-weight="700" fill="#3b3b3b">121,438</text>
<text transform="translate(341.73 1402.00) scale(1.0354 1)" font-size="39.54" font-weight="700" fill="#3b3b3b">Palestinians</text>
<text transform="translate(590.08 1402.00) scale(1.1151 1)" font-size="39.54" font-weight="400" fill="#474747">and</text>
<text transform="translate(672.65 1402.00) scale(1.0525 1)" font-size="39.54" font-weight="700" fill="#3b3b3b">5,682</text>
<text transform="translate(787.97 1402.00) scale(1.0162 1)" font-size="39.54" font-weight="700" fill="#3b3b3b">Israelis</text>
<text transform="translate(936.29 1402.00) scale(1.0531 1)" font-size="39.54" font-weight="400" fill="#474747">have</text>
<text transform="translate(1035.47 1402.00) scale(1.0253 1)" font-size="39.54" font-weight="400" fill="#474747">also</text>
<text transform="translate(1120.29 1402.00) scale(1.1057 1)" font-size="39.54" font-weight="400" fill="#474747">been</text>
<text transform="translate(1226.79 1402.00) scale(1.1065 1)" font-size="39.54" font-weight="400" fill="#474747">injured.</text>
<text transform="translate(190.70 1468.30) scale(1.0993 1)" font-size="23.55" font-weight="700" fill="#6b6b6b">Categories</text>
<text transform="translate(334.10 1468.30) scale(0.9676 1)" font-size="23.55" font-weight="700" fill="#6b6b6b">for</text>
<text transform="translate(373.10 1468.30) scale(1.1082 1)" font-size="23.55" font-weight="700" fill="#6b6b6b">fatalities</text>
<text transform="translate(486.60 1468.30) scale(1.0465 1)" font-size="23.55" font-weight="700" fill="#6b6b6b">as</text>
<text transform="translate(521.70 1468.30) scale(1.1848 1)" font-size="23.55" font-weight="700" fill="#6b6b6b">defined</text>
<text transform="translate(626.85 1468.30) scale(1.1451 1)" font-size="23.55" font-weight="700" fill="#6b6b6b">by</text>
<text transform="translate(665.00 1468.30) scale(1.1928 1)" font-size="23.55" font-weight="700" fill="#6b6b6b">the</text>
<text transform="translate(713.61 1468.30) scale(1.1877 1)" font-size="23.55" font-weight="700" fill="#6b6b6b">UN</text>
<text transform="translate(189.80 1496.60) scale(1.0563 1)" font-size="23.55" font-weight="700" fill="#6b6b6b">Source:</text>
<text transform="translate(288.04 1496.60) scale(1.1596 1)" font-size="23.55" font-weight="700" fill="#6b6b6b">UN</text>
<text transform="translate(336.00 1496.60) scale(1.0838 1)" font-size="23.55" font-weight="700" fill="#6b6b6b">OCHA</text>
<text transform="translate(418.67 1496.60) scale(1.2250 1)" font-size="23.55" font-weight="700" fill="#6b6b6b">|</text>
<text transform="translate(431.50 1496.60) scale(1.0987 1)" font-size="23.55" font-weight="700" fill="#6b6b6b">May</text>
<text transform="translate(491.40 1496.60) scale(1.0042 1)" font-size="23.55" font-weight="700" fill="#6b6b6b">18,</text>
<text transform="translate(529.50 1496.60) scale(1.0256 1)" font-size="23.55" font-weight="700" fill="#6b6b6b">2021</text>
<text transform="translate(1222.71 1495.00) scale(0.9934 1)" font-size="29.65" font-weight="700" fill="#e8993f">@AJLabs</text>
<text transform="translate(1371.90 1497.00) scale(0.9906 1)" font-size="21.22" font-weight="700" fill="#5c5c5c">ALJAZEERA</text>
</svg>
</body></html>
